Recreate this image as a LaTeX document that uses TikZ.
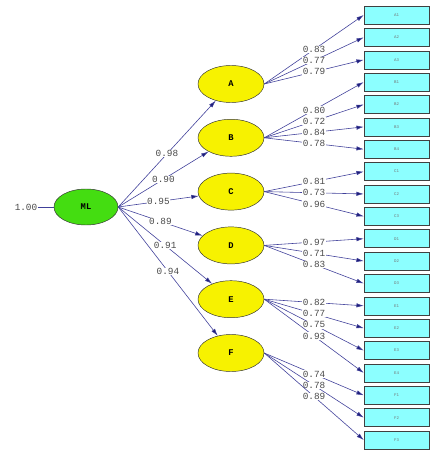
\documentclass[tikz,border=0pt]{standalone}
\usepackage{fontspec}
\newfontfamily\lisrelfont{Liberation Mono}
\usetikzlibrary{arrows.meta,shapes.geometric}
\definecolor{pathblue}{HTML}{40409A}
\definecolor{tipblue}{HTML}{1C1C78}
\definecolor{latentyellow}{HTML}{F7F200}
\definecolor{latentgreen}{HTML}{44DD11}
\definecolor{boxcyan}{HTML}{8CFFFF}
\definecolor{labelgray}{HTML}{4A4A4A}
\tikzset{
	% ------- every something
	every picture/.style={
		x=0.03cm, y=-0.03cm,
	},
	every node/.style={
		font=\lisrelfont,
	},
	% ------- custom
	latent/.style={
		ellipse, draw=black!80, fill=latentyellow,
		minimum width=1.98cm, minimum height=1.11cm, inner sep=0pt,
		font=\lisrelfont\bfseries\fontsize{7.5}{8}\selectfont,
	},
	indicator/.style={
		rectangle, draw=black!75, fill=boxcyan,
		minimum width=1.95cm, minimum height=0.54cm, inner sep=0pt,
		font=\lisrelfont\fontsize{3.5}{4}\selectfont, text=black!55,
	},
	loading/.style={
		pathblue, line width=0.5pt,
		-{Latex[length=2.2mm, width=1.3mm, fill=tipblue]},
	},
	coef/.style={
		fill=white, inner sep=0.4pt, text=labelgray,
		font=\lisrelfont\fontsize{8}{9}\selectfont,
	},
}

\begin{document}
\begin{tikzpicture}

% frame %{{{1

	\useasboundingbox (0,0) rectangle (441,455);

% second order factor %{{{1

	\node[latent, fill=latentgreen, minimum width=1.92cm, minimum height=1.08cm]
		(ML) at (86,207) {ML};
	\node[coef] (var) at (26,207) {1.00};
	\draw[pathblue, line width=0.5pt] (var.east) -- (ML.west);

% first order factors %{{{1

	\foreach \lat [count=\i from 0] in {A,B,C,D,E,F}
		\node[latent] (\lat) at (231,{84+53.8*\i}) {\lat};

% indicators %{{{1

	\foreach \ind [count=\k from 0] in {A1,A2,A3,B1,B2,B3,B4,C1,C2,C3,%
		D1,D2,D3,E1,E2,E3,E4,F1,F2,F3}
		\node[indicator] (\ind) at (396.5,{15+22.37*\k}) {\ind};

% structural paths %{{{1

	\foreach \lat/\val in {A/0.98,B/0.90,C/0.95,D/0.89,E/0.91,F/0.94}
		\draw[loading] (ML.east) -- node[coef] {\val} (\lat);

% measurement paths %{{{1

	\foreach \lat/\ind/\val in {A/A1/0.83,A/A2/0.77,A/A3/0.79,
		B/B1/0.80,B/B2/0.72,B/B3/0.84,B/B4/0.78,
		C/C1/0.81,C/C2/0.73,C/C3/0.96,
		D/D1/0.97,D/D2/0.71,D/D3/0.83,
		E/E1/0.82,E/E2/0.77,E/E3/0.75,E/E4/0.93,
		F/F1/0.74,F/F2/0.78,F/F3/0.89}
		\draw[loading] (\lat.east) -- node[coef] {\val} (\ind.west);

% closing %{{{1

\end{tikzpicture}
\end{document}
